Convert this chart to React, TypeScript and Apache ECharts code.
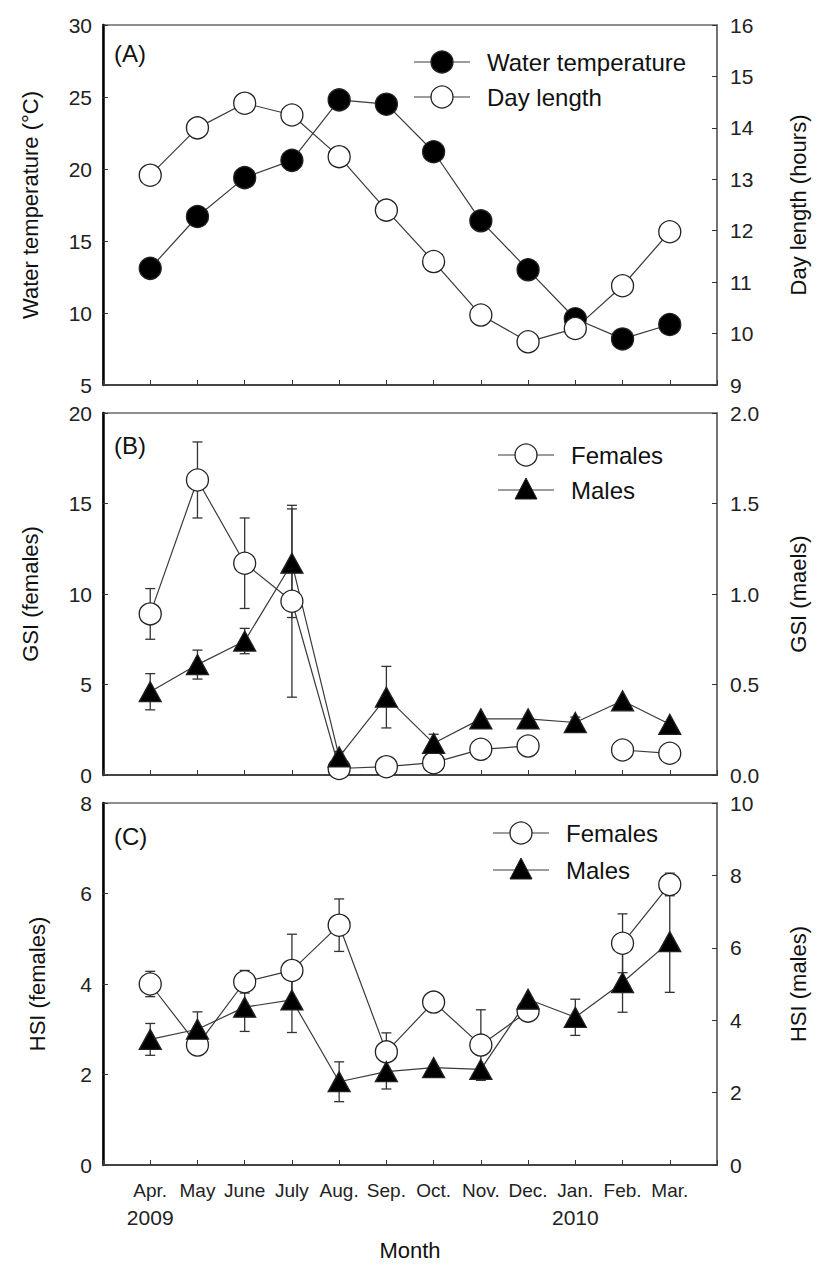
import React, { useEffect, useRef } from "react";
import * as echarts from "echarts";

const months = ["Apr.", "May", "June", "July", "Aug.", "Sep.", "Oct.", "Nov.", "Dec.", "Jan.", "Feb.", "Mar."];
const years = ["2009", "", "", "", "", "", "", "", "", "2010", "", ""];

// Panel A
const waterTemp = [13.1, 16.7, 19.4, 20.6, 24.8, 24.5, 21.2, 16.4, 13.0, 9.6, 8.2, 9.2];
const dayLength = [13.08, 14.0, 14.48, 14.25, 13.44, 12.4, 11.4, 10.36, 9.84, 10.1, 10.93, 11.98];

// Panel B (GSI)
const gsiFemale = [8.9, 16.3, 11.7, 9.6, 0.36, 0.46, 0.68, 1.42, 1.6, null, 1.38, 1.2];
const gsiFemaleSE = [1.4, 2.1, 2.5, 5.3, 0, 0, 0, 0, 0, 0, 0, 0];
const gsiMale = [0.46, 0.61, 0.74, 1.17, 0.1, 0.43, 0.175, 0.31, 0.31, 0.29, 0.41, 0.28];
const gsiMaleSE = [0.1, 0.08, 0.07, 0.3, 0.03, 0.17, 0.05, 0, 0, 0.03, 0, 0];

// Panel C (HSI)
const hsiFemale = [4.0, 2.65, 4.05, 4.3, 5.3, 2.5, 3.6, 2.65, 3.4, null, 4.9, 6.2];
const hsiFemaleSE = [0.28, 0.2, 0.25, 0.8, 0.58, 0.42, 0, 0.78, 0, 0, 0.65, 0.25];
const hsiMale = [3.47, 3.75, 4.36, 4.56, 2.3, 2.58, 2.69, 2.64, 4.58, 4.08, 5.04, 6.17];
const hsiMaleSE = [0.44, 0.48, 0.67, 0.9, 0.55, 0.48, 0, 0, 0, 0.5, 0.82, 1.4];

const FONT = '"Liberation Sans", Arial, sans-serif';
const LINE = "#3a3a3a";

const pts = (arr: (number | null)[]) => arr.map((v, i) => [i + 1, v == null ? null : v]);
const errPts = (arr: (number | null)[], se: number[]) =>
  arr
    .map((v, i) => (v == null || !se[i] ? null : [i + 1, v - se[i], v + se[i]]))
    .filter((d) => d !== null);

const errorRender = (params: any, api: any) => {
  const x = api.value(0);
  const lo = api.coord([x, api.value(1)]);
  const hi = api.coord([x, api.value(2)]);
  const w = 5;
  const st = { stroke: "#333", lineWidth: 1.3 };
  return {
    type: "group",
    children: [
      { type: "line", shape: { x1: lo[0], y1: lo[1], x2: hi[0], y2: hi[1] }, style: st },
      { type: "line", shape: { x1: lo[0] - w, y1: lo[1], x2: lo[0] + w, y2: lo[1] }, style: st },
      { type: "line", shape: { x1: hi[0] - w, y1: hi[1], x2: hi[0] + w, y2: hi[1] }, style: st },
    ],
  };
};

export default function App() {
  const ref = useRef<HTMLDivElement>(null);
  useEffect(() => {
    if (!ref.current) return;
    const chart = echarts.init(ref.current, null, { renderer: "svg" });

    const grids = [
      { left: 103, right: 110, top: 25, height: 360 },
      { left: 103, right: 110, top: 413, height: 362 },
      { left: 103, right: 110, top: 803, height: 362 },
    ].map((g) => ({ ...g, show: true, borderColor: "#6a6a6a", borderWidth: 1.5, backgroundColor: "transparent" }));

    const mkX = (gi: number, labels: boolean) => ({
      type: "value",
      gridIndex: gi,
      min: 0,
      max: 13,
      interval: 1,
      axisLine: { show: true, onZero: false, lineStyle: { color: "#444", width: 2 } },
      axisTick: { show: true, inside: true, length: 5, lineStyle: { color: "#333" } },
      splitLine: { show: false },
      axisLabel: labels
        ? {
            show: true,
            fontSize: 19,
            fontFamily: FONT,
            color: "#222",
            margin: 15,
            lineHeight: 21,
            formatter: (v: number) => {
              const i = v - 1;
              if (i < 0 || i >= months.length) return "";
              return years[i] ? `${months[i]}\n{yr|${years[i]}}` : months[i];
            },
            rich: { yr: { fontSize: 21, fontFamily: FONT, color: "#222", lineHeight: 32 } },
          }
        : { show: false },
      name: labels ? "Month" : "",
      nameLocation: "middle",
      nameGap: 74,
      nameTextStyle: { fontSize: 22, fontFamily: FONT, color: "#111" },
    });

    const mkY = (gi: number, pos: string, min: number, max: number, interval: number, name: string, gap: number, fmt?: any) => ({
      type: "value",
      gridIndex: gi,
      position: pos,
      min,
      max,
      interval,
      name,
      nameLocation: "middle",
      nameRotate: 90,
      nameGap: gap,
      nameTextStyle: { fontSize: 22, fontFamily: FONT, color: "#111" },
      axisLine: { show: true, lineStyle: { color: pos === "left" ? "#000" : "#6a6a6a", width: pos === "left" ? 2.5 : 1.5 } },
      axisTick: { show: true, inside: true, length: 5, lineStyle: { color: "#333" } },
      axisLabel: { fontSize: 21, fontFamily: FONT, color: "#222", margin: pos === "left" ? 11 : 13, formatter: fmt },
      splitLine: { show: false },
    });

    const lineSeries = (name: string, data: any, xi: number, yi: number, symbol: string, fill: string, size: any) => ({
      type: "line",
      name,
      xAxisIndex: xi,
      yAxisIndex: yi,
      data,
      symbol,
      symbolSize: size,
      showSymbol: true,
      connectNulls: false,
      lineStyle: { color: LINE, width: 1.2 },
      itemStyle: { color: fill, borderColor: "#222", borderWidth: 1.3 },
      z: 3,
    });

    const errSeries = (data: any, xi: number, yi: number) => ({
      type: "custom",
      xAxisIndex: xi,
      yAxisIndex: yi,
      data,
      encode: { x: 0, y: [1, 2] },
      renderItem: errorRender,
      z: 2,
      silent: true,
    });

    const legendItem = (x: number, y: number, label: string, kind: string) => {
      const els: any[] = [
        { type: "line", shape: { x1: x - 28, y1: y, x2: x + 28, y2: y }, style: { stroke: LINE, lineWidth: 1.2 } },
      ];
      if (kind === "tri") {
        els.push({
          type: "polygon",
          shape: { points: [[x, y - 12], [x - 11, y + 9], [x + 11, y + 9]] },
          style: { fill: "#000", stroke: "#222", lineWidth: 1 },
        });
      } else {
        els.push({
          type: "circle",
          shape: { cx: x, cy: y, r: 11 },
          style: { fill: kind === "filled" ? "#000" : "#fff", stroke: "#222", lineWidth: 1.3 },
        });
      }
      els.push({
        type: "text",
        x: x + 45,
        y,
        style: { text: label, fontSize: 24, fontFamily: FONT, fill: "#111", verticalAlign: "middle" },
      });
      return els;
    };

    const panelLabel = (x: number, y: number, t: string) => ({
      type: "text",
      x,
      y,
      style: { text: t, fontSize: 24, fontFamily: FONT, fill: "#111", verticalAlign: "middle" },
    });

    chart.setOption({
      animation: false,
      backgroundColor: "#fff",
      grid: grids,
      xAxis: [mkX(0, false), mkX(1, false), mkX(2, true)],
      yAxis: [
        mkY(0, "left", 5, 30, 5, "Water temperature (\u00b0C)", 62),
        mkY(0, "right", 9, 16, 1, "Day length (hours)", 70),
        mkY(1, "left", 0, 20, 5, "GSI (females)", 62),
        mkY(1, "right", 0, 2, 0.5, "GSI (maels)", 70, (v: number) => v.toFixed(1)),
        mkY(2, "left", 0, 8, 2, "HSI (females)", 55),
        mkY(2, "right", 0, 10, 2, "HSI (males)", 70),
      ],
      series: [
        lineSeries("Water temperature", pts(waterTemp), 0, 0, "circle", "#000", 22),
        lineSeries("Day length", pts(dayLength), 0, 1, "circle", "#fff", 22),
        errSeries(errPts(gsiFemale, gsiFemaleSE), 1, 2),
        errSeries(errPts(gsiMale, gsiMaleSE), 1, 3),
        lineSeries("Females", pts(gsiFemale), 1, 2, "circle", "#fff", 22),
        lineSeries("Males", pts(gsiMale), 1, 3, "triangle", "#000", [22, 20]),
        errSeries(errPts(hsiFemale, hsiFemaleSE), 2, 4),
        errSeries(errPts(hsiMale, hsiMaleSE), 2, 5),
        lineSeries("Females", pts(hsiFemale), 2, 4, "circle", "#fff", 22),
        lineSeries("Males", pts(hsiMale), 2, 5, "triangle", "#000", [22, 20]),
      ],
      graphic: [
        panelLabel(114, 53, "(A)"),
        panelLabel(114, 445, "(B)"),
        panelLabel(114, 836, "(C)"),
        ...legendItem(442, 62, "Water temperature", "filled"),
        ...legendItem(442, 97, "Day length", "open"),
        ...legendItem(526, 455, "Females", "open"),
        ...legendItem(526, 490, "Males", "tri"),
        ...legendItem(521, 833, "Females", "open"),
        ...legendItem(521, 870, "Males", "tri"),
      ],
    });
    return () => chart.dispose();
  }, []);
  return <div ref={ref} style={{ position: "absolute", left: 0, top: 0, width: 827, height: 1277 }} />;
}
